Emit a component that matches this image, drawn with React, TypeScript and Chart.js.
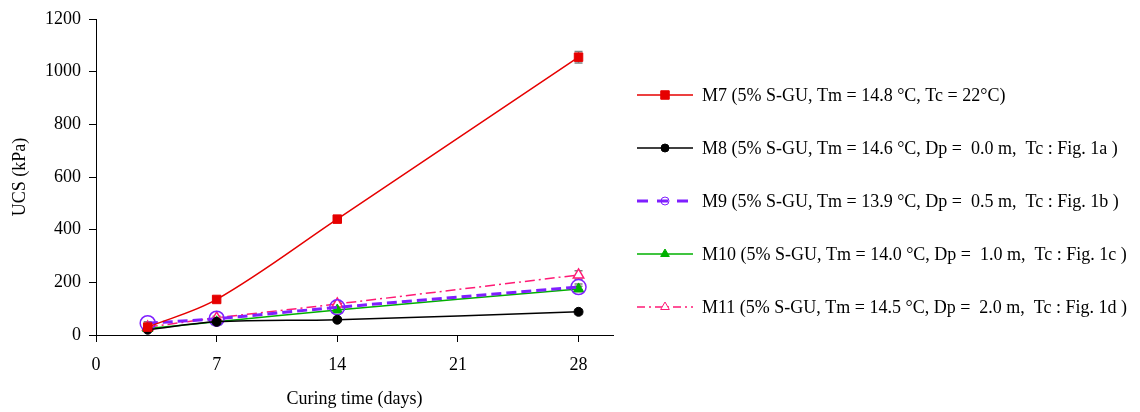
import React, { useEffect, useRef } from 'react';
import { Chart, registerables } from 'chart.js';
import { drawPoint } from 'chart.js/helpers';

Chart.register(...registerables);

// ---- data ----
const days = [3, 7, 14, 28];
const m7 = [30, 135, 440, 1055];
const m7Err = [8, 10, 12, 22];
const m8 = [20, 50, 58, 88];
const m8Err = [6, 6, 6, 10];
const m9 = [45, 62, 105, 182];
const m9Err = [5, 6, 8, 12];
const m10 = [25, 50, 95, 175];
const m10Err = [5, 6, 8, 10];
const m11 = [30, 65, 118, 228];
const m11Err = [5, 6, 8, 16];

const seriesLabels = [
  'M7 (5% S-GU, Tm = 14.8 °C, Tc = 22°C)',
  'M8 (5% S-GU, Tm = 14.6 °C, Dp =  0.0 m,  Tc : Fig. 1a )',
  'M9 (5% S-GU, Tm = 13.9 °C, Dp =  0.5 m,  Tc : Fig. 1b )',
  'M10 (5% S-GU, Tm = 14.0 °C, Dp =  1.0 m,  Tc : Fig. 1c )',
  'M11 (5% S-GU, Tm = 14.5 °C, Dp =  2.0 m,  Tc : Fig. 1d )',
];
const xTickValues = [0, 7, 14, 21, 28];
const yTickValues = [0, 200, 400, 600, 800, 1000, 1200];
const xTitle = 'Curing time (days)';
const yTitle = 'UCS (kPa)';

const FONT = '"Liberation Serif", "Times New Roman", serif';

const toPts = (vals: number[]) => vals.map((v, i) => ({ x: days[i], y: v }));

const errorBarPlugin = {
  id: 'errorBars',
  beforeDatasetsDraw(chart: any) {
    const { ctx, scales } = chart;
    const xs = scales.x;
    const ys = scales.y;
    ctx.save();
    ctx.strokeStyle = '#7f7f7f';
    ctx.lineWidth = 1.5;
    ctx.setLineDash([]);
    chart.data.datasets.forEach((ds: any) => {
      const errs: number[] = ds.errors || [];
      ds.data.forEach((p: any, i: number) => {
        const e = errs[i] || 0;
        const px = xs.getPixelForValue(p.x);
        const yt = ys.getPixelForValue(p.y + e);
        const yb = ys.getPixelForValue(p.y - e);
        ctx.beginPath();
        ctx.moveTo(px, yt);
        ctx.lineTo(px, yb);
        ctx.moveTo(px - 4, yt);
        ctx.lineTo(px + 4, yt);
        ctx.moveTo(px - 4, yb);
        ctx.lineTo(px + 4, yb);
        ctx.stroke();
      });
    });
    ctx.restore();
  },
};

const sideLegendPlugin = {
  id: 'sideLegend',
  afterDraw(chart: any) {
    const { ctx, chartArea } = chart;
    const x0 = chartArea.right + 24;
    const x1 = x0 + 56;
    const xm = (x0 + x1) / 2;
    const tx = x1 + 9;
    chart.data.datasets.forEach((ds: any, i: number) => {
      const y = 95 + i * 53;
      ctx.save();
      ctx.strokeStyle = ds.borderColor;
      ctx.lineWidth = ds.legendLineWidth || ds.borderWidth;
      ctx.setLineDash(ds.legendDash || []);
      ctx.beginPath();
      ctx.moveTo(x0, y);
      ctx.lineTo(x1, y);
      ctx.stroke();
      ctx.setLineDash([]);
      ctx.fillStyle = ds.pointBackgroundColor;
      ctx.strokeStyle = ds.pointBorderColor;
      ctx.lineWidth = 1;
      drawPoint(ctx, { pointStyle: ds.pointStyle, rotation: 0, radius: ds.legendRadius, borderWidth: 1 }, xm, y);
      ctx.fillStyle = '#000';
      ctx.font = `18px ${FONT}`;
      ctx.textBaseline = 'middle';
      ctx.textAlign = 'left';
      ctx.fillText(seriesLabels[i], tx, y + 1);
      ctx.restore();
    });
  },
};

export default function App() {
  const canvasRef = useRef<HTMLCanvasElement | null>(null);

  useEffect(() => {
    document.body.style.margin = '0';
    const canvas = canvasRef.current;
    if (!canvas) return;
    const chart = new Chart(canvas, {
      type: 'line',
      data: {
        datasets: [
          {
            label: seriesLabels[0],
            data: toPts(m7),
            errors: m7Err,
            borderColor: '#e60000',
            backgroundColor: '#e60000',
            pointBackgroundColor: '#e60000',
            pointBorderColor: '#e60000',
            borderWidth: 1.5,
            pointStyle: 'rect',
            pointRadius: 6,
            pointBorderWidth: 1,
            legendRadius: 6,
            tension: 0.35,
          } as any,
          {
            label: seriesLabels[1],
            data: toPts(m8),
            errors: m8Err,
            borderColor: '#000000',
            backgroundColor: '#000000',
            pointBackgroundColor: '#000000',
            pointBorderColor: '#000000',
            borderWidth: 1.5,
            pointStyle: 'circle',
            pointRadius: 4.5,
            pointBorderWidth: 1,
            legendRadius: 4,
            tension: 0.35,
          } as any,
          {
            label: seriesLabels[2],
            data: toPts(m9),
            errors: m9Err,
            borderColor: '#7f1fff',
            backgroundColor: '#7f1fff',
            pointBackgroundColor: 'rgba(255,255,255,0)',
            pointBorderColor: '#7f1fff',
            borderWidth: 3,
            borderDash: [10, 5],
            legendDash: [11, 9],
            pointStyle: 'circle',
            pointRadius: 7.5,
            pointBorderWidth: 1.5,
            legendRadius: 4,
            tension: 0.35,
          } as any,
          {
            label: seriesLabels[3],
            data: toPts(m10),
            errors: m10Err,
            borderColor: '#00b000',
            backgroundColor: '#00b000',
            pointBackgroundColor: '#00b000',
            pointBorderColor: '#00b000',
            borderWidth: 1.5,
            pointStyle: 'triangle',
            pointRadius: 6,
            pointBorderWidth: 1,
            legendRadius: 5,
            tension: 0.35,
          } as any,
          {
            label: seriesLabels[4],
            data: toPts(m11),
            errors: m11Err,
            borderColor: '#ff1a75',
            backgroundColor: '#ff1a75',
            pointBackgroundColor: '#ffffff',
            pointBorderColor: '#ff1a75',
            borderWidth: 1.5,
            borderDash: [10, 4, 2, 4],
            legendDash: [8, 4, 2, 4],
            pointStyle: 'triangle',
            pointRadius: 6,
            pointBorderWidth: 1.5,
            legendRadius: 5,
            tension: 0.35,
          } as any,
        ],
      },
      options: {
        animation: false,
        responsive: false,
        maintainAspectRatio: false,
        layout: { padding: { left: 0, top: 19, right: 527, bottom: 0 } },
        plugins: {
          legend: { display: false },
          tooltip: { enabled: false },
        },
        scales: {
          x: {
            type: 'linear',
            min: 0,
            max: 30,
            afterFit: (s: any) => { s.height = 77; },
            afterBuildTicks: (s: any) => { s.ticks = xTickValues.map((v) => ({ value: v })); },
            ticks: { stepSize: 7, includeBounds: false, color: '#000', font: { family: FONT, size: 18 }, padding: 12, callback: (v: any) => String(v) },
            grid: { display: true, drawOnChartArea: false, drawTicks: true, tickLength: 7, color: '#000', lineWidth: 1 },
            border: { display: true, color: '#000', width: 1 },
            title: { display: true, text: xTitle, color: '#000', font: { family: FONT, size: 18 }, padding: { top: 2, bottom: 2 } },
          },
          y: {
            type: 'linear',
            min: 0,
            max: 1200,
            afterFit: (s: any) => { s.width = 96; },
            afterBuildTicks: (s: any) => { s.ticks = yTickValues.map((v) => ({ value: v })); },
            ticks: { stepSize: 200, color: '#000', font: { family: FONT, size: 18 }, padding: 8, callback: (v: any) => String(v) },
            grid: { display: true, drawOnChartArea: false, drawTicks: true, tickLength: 7, color: '#000', lineWidth: 1 },
            border: { display: true, color: '#000', width: 1 },
            title: { display: true, text: yTitle, color: '#000', font: { family: FONT, size: 18 }, padding: { top: 9, bottom: 9 } },
          },
        },
      } as any,
      plugins: [errorBarPlugin, sideLegendPlugin],
    });
    return () => chart.destroy();
  }, []);

  return (
    <div style={{ width: 1140, height: 412 }}>
      <canvas ref={canvasRef} width={1140} height={412} style={{ display: 'block' }} />
    </div>
  );
}
